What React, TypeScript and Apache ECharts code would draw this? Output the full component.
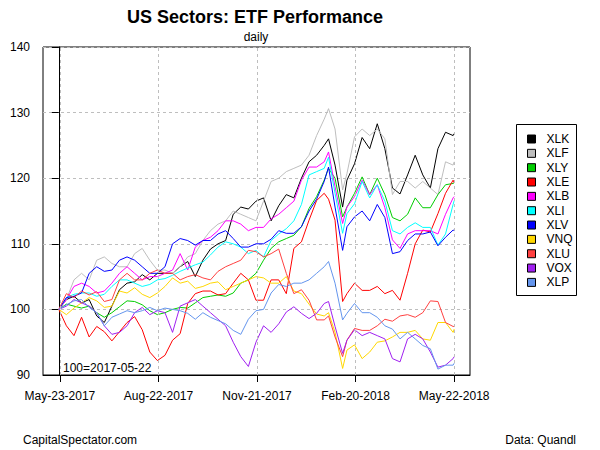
import React, { useEffect, useRef } from 'react';
import * as echarts from 'echarts';

// days since 2017-05-22
const days = [0,7,14,21,28,35,42,49,56,63,70,77,84,91,98,105,112,119,126,133,140,147,154,161,168,175,182,189,196,203,210,217,224,231,238,245,249,255,262,266,273,280,287,294,301,308,315,322,329,336,343,350,357,364,365];

const xTickDays = [1, 92, 183, 274, 365];
const xTickLabels = ['May-23-2017', 'Aug-22-2017', 'Nov-21-2017', 'Feb-20-2018', 'May-22-2018'];

const seriesNames = ['XLK','XLF','XLY','XLE','XLB','XLI','XLV','VNQ','XLU','VOX','XLP'];
const seriesColors = ['#000000','#BEBEBE','#00CD00','#FF0000','#FF00FF','#00FFFF','#0000FF','#FFD700','#FF4040','#A020F0','#6495ED'];

const XLK = [100,101.5,102,101,101.5,99,98,100.5,103,104,104.2,105.3,104.5,105.5,105.5,105.5,106.5,107.3,105,107.5,109.2,110,110.5,114.5,115.6,115.3,116.5,117,113.5,115.8,117.5,117,120,122.5,123.5,125,126,122,115.6,119.7,122.2,126.2,124.5,128.3,124.5,118.5,117.6,120.5,123.5,120.5,118.5,124.5,127,126.5,126.8];
const XLF = [100,101.5,104.5,105.5,104.5,107.5,108,107,106.5,106.5,108.5,109.3,107.5,106,106,105.5,106.5,108,108.5,110.5,112,113,113.5,115,114.5,114,113.5,116.5,119.5,120,121,121.5,122,123.5,126.5,129,130.6,127.5,118.2,120.7,126.3,127.5,126.5,127.5,126,117.5,119.5,119.5,118.5,119.5,118.5,117.5,122.5,122,122.5];
const XLY = [100,100.8,100.5,100.2,100.5,99.5,98.8,99.5,100.4,101.3,101.2,100.7,99.8,99.2,99.5,100,100.3,100.2,101,101.8,102,102.2,102,102.5,104,104.5,105.5,107.5,109.3,110.3,110.8,111.3,112.6,115.4,117.2,119.7,121.5,120,114.1,115.6,117.7,120.2,117.5,120,117.5,114,113.5,114.5,117,115.5,115.5,117.5,119,119.2,119.3];
const XLE = [100,97.5,96,98.8,95.8,97.4,96.6,95.2,96.6,98,98.9,96.9,93.5,92.2,93,95.3,96.3,100.9,102.4,102.8,102.8,102.2,102.4,104,105.5,104.5,101.4,101.4,104.5,104.5,102.4,109.3,110.3,113.6,116.6,117.7,116.8,113.6,101.2,102.4,104,102.9,102.9,103.5,102.4,102.9,101.4,105.5,110,112.1,111.8,114.6,117.7,119.7,119.3];
const XLB = [100,101.5,103.5,104,103.5,102.5,102.8,104,105.5,106.5,105.5,104.5,105,105,105.5,106,108.5,106,109.5,110.5,111,112,113.5,113.5,113,112,112.5,112.5,113.8,114.5,115.5,116.5,119.7,121.7,121.7,122.5,124,118.7,113.1,115.6,117.2,119.7,117.5,119,115.5,110.6,109.3,111.5,112,112,112,111.5,114.5,117,117.2];
const XLI = [100,101.8,102.3,102.5,102.5,102,102.3,103.5,104.5,104.5,104,103.5,103.8,104.5,104.7,105.2,105.8,106.3,106.8,107.2,108.3,109.5,110.3,110,109.5,108.5,109,108,110.5,111.5,112.3,113.5,116,120.5,121,121.5,123.2,117.7,111.6,114.6,116.1,119.5,117,119,116.5,112,111.5,112.5,113.2,112.5,112.5,109.8,111.5,116,116.6];
const XLV = [100,101.8,102,102.5,105.5,106.5,105.8,106,107.5,108,107.5,106.5,105.5,105.5,106.5,110,110.8,110.5,109.8,110.5,110.5,111.5,112,110.8,109.5,109.5,110,110,110.7,112,111.6,111.6,112.6,115,116.8,119.5,121.7,115.6,109,112.6,114.1,115,113.5,116,114,108.5,108.8,110.5,111.5,111.5,111.8,109.7,111,112.1,112];
const VNQ = [100,99.2,100.2,101,101.8,101.3,100.3,100.5,102.8,102.5,103.3,102.3,101.8,102.5,103.5,104.8,104,104.3,103.2,103.5,104,104.2,103,103.5,104,104.5,105,104.8,104,104,105,102.8,102.4,100.8,99.3,99,99.5,96.5,91,93.8,94.6,92.5,93.5,95,95.2,95.8,96.5,96.5,96.8,95.5,95.3,98,98,96.5,97];
const XLU = [100,102.4,101.8,102.8,102.2,102.7,101.2,101.5,104.5,105.5,104.5,104.5,105.5,106,105.5,105.5,104.5,105,105.3,104.8,104.5,105.8,106.5,107,107.5,109,108.8,108,108.5,109.2,105.5,102.4,103,101.4,98.4,98.4,99,95.8,92.8,95.3,97.1,96.8,96.8,97.5,98.5,98.2,99,99.2,98.8,99.5,101.3,101.2,98,97.4,97.4];
const VOX = [100,100.5,101.5,101,100.5,99.5,97.5,96.2,96.5,97.5,99.5,100.3,99.2,99.8,99.5,96.5,100.5,101,101.5,100.5,99.5,98.5,97.5,95,92.8,91.3,95,97.5,96.5,97.8,99.6,100.4,99.4,98.6,99.4,100.9,101.2,97.4,93.3,95.3,96.9,96,96.5,96,95.5,92.5,92,95.5,96.2,95.5,93.5,91.2,91.5,92.5,92.8];
const XLP = [100,100.7,101.3,101.5,100.3,99.5,97.5,98.8,99.3,99.8,99.5,99.8,100.3,99.8,100.2,100,99.8,99.4,98.5,99.5,98.8,98.3,97.8,96.8,96.2,98.5,99.8,100,102.5,103.8,103.5,104,104,104.5,105.5,106.5,107.3,104,98.4,99.4,100.9,99.5,99.5,98.8,97.5,97,95.5,96.5,95.5,94.5,94,90.9,91.5,91.5,91.8];

const seriesValues = [XLK, XLF, XLY, XLE, XLB, XLI, XLV, VNQ, XLU, VOX, XLP];

const FONT = '"Liberation Sans", Arial, sans-serif';

export default function App() {
  const ref = useRef<HTMLDivElement>(null);
  useEffect(() => {
    if (!ref.current) return;
    const chart = echarts.init(ref.current, null, { renderer: 'svg' });
    const series: any[] = seriesNames.map((name, i) => ({
      name,
      type: 'line',
      data: days.map((d, j) => [d, seriesValues[i][j]]),
      showSymbol: false,
      symbol: 'none',
      color: seriesColors[i],
      lineStyle: { width: 1, color: seriesColors[i] },
      emphasis: { disabled: true },
      ...(i === 0
        ? {
            markLine: {
              silent: true,
              symbol: 'none',
              label: { show: false },
              lineStyle: { type: [3, 3], color: '#BEBEBE', width: 1 },
              data: xTickDays.map((d) => ({ xAxis: d })),
            },
          }
        : {}),
    }));
    chart.setOption({
      animation: false,
      textStyle: { fontFamily: FONT },
      grid: {
        left: 43,
        right: 130,
        top: 47,
        bottom: 75,
        show: true,
        borderColor: '#000',
        borderWidth: 1,
        containLabel: false,
      },
      xAxis: {
        type: 'value',
        min: -14.6,
        max: 379.6,
        axisLine: { show: true, lineStyle: { color: '#000', width: 1 } },
        axisTick: { show: true, length: 7, customValues: xTickDays, lineStyle: { color: '#000' } },
        axisLabel: {
          show: true,
          customValues: xTickDays,
          margin: 15,
          fontSize: 12,
          color: '#000',
          fontFamily: FONT,
          formatter: (v: number) => {
            const k = xTickDays.indexOf(Math.round(v));
            return k >= 0 ? xTickLabels[k] : '';
          },
        },
        splitLine: { show: false },
      },
      yAxis: {
        type: 'value',
        min: 90,
        max: 140,
        interval: 10,
        axisLine: { show: true, lineStyle: { color: '#000', width: 1 } },
        axisTick: { show: true, length: 7, lineStyle: { color: '#000' } },
        axisLabel: { margin: 13, fontSize: 12, color: '#000', fontFamily: FONT },
        splitLine: { show: true, lineStyle: { type: [3, 3], color: '#BEBEBE', width: 1 } },
      },
      legend: {
        data: seriesNames,
        orient: 'vertical',
        left: 527,
        top: 132,
        padding: 0,
        itemGap: 0.34,
        itemWidth: 8,
        itemHeight: 8,
        icon: 'rect',
        itemStyle: { borderColor: '#000', borderWidth: 1 },
        textStyle: { fontSize: 12, lineHeight: 14, color: '#000', fontFamily: FONT, padding: [0, 0, 0, 6] },
        selectedMode: false,
      },
      graphic: [
        {
          type: 'rect',
          shape: { x: 516.5, y: 124.5, width: 60, height: 171 },
          style: { fill: 'none', stroke: '#000', lineWidth: 1 },
          silent: true,
        },
        {
          type: 'text',
          x: 255,
          y: 17,
          style: { text: 'US Sectors: ETF Performance', font: `bold 18px ${FONT}`, fill: '#000', textAlign: 'center', textVerticalAlign: 'middle' },
        },
        {
          type: 'text',
          x: 256,
          y: 37,
          style: { text: 'daily', font: `12px ${FONT}`, fill: '#000', textAlign: 'center', textVerticalAlign: 'middle' },
        },
        {
          type: 'text',
          x: 63,
          y: 368,
          style: { text: '100=2017-05-22', font: `12px ${FONT}`, fill: '#000', textAlign: 'left', textVerticalAlign: 'middle' },
        },
        {
          type: 'text',
          x: 23,
          y: 440,
          style: { text: 'CapitalSpectator.com', font: `12px ${FONT}`, fill: '#000', textAlign: 'left', textVerticalAlign: 'middle' },
        },
        {
          type: 'text',
          x: 576,
          y: 440,
          style: { text: 'Data: Quandl', font: `12px ${FONT}`, fill: '#000', textAlign: 'right', textVerticalAlign: 'middle' },
        },
      ],
      series,
    });
    return () => chart.dispose();
  }, []);
  return <div ref={ref} style={{ width: 600, height: 450, position: 'absolute', left: 0, top: 0, background: '#fff' }} />;
}
